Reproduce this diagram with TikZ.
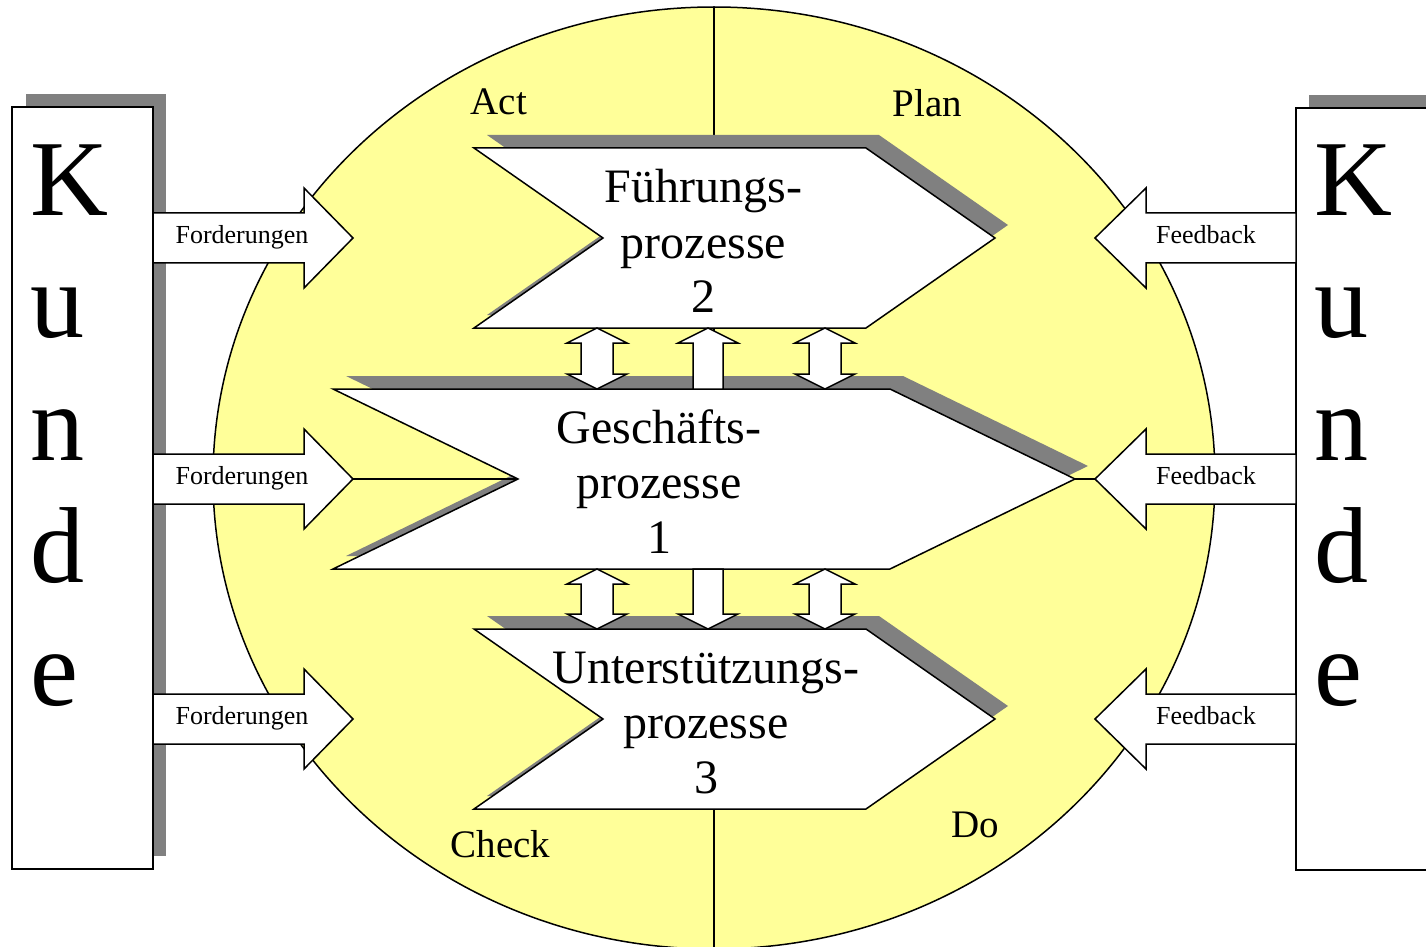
\documentclass[tikz,border=0pt]{standalone}
\usepackage{fontspec}
\setmainfont{Liberation Serif}
\definecolor{ylw}{RGB}{255,255,153}
\definecolor{shd}{RGB}{128,128,128}
\newcommand\chevpath[4]{(#1,#4-90) -- (#2,#4-90) -- (#2+#3,#4) -- (#2,#4+90) -- (#1,#4+90) -- (#1+#3,#4) -- cycle}
\newcommand\dblarr[3]{\draw[shp] (#1,#2) -- (#1+30,#2+15) -- (#1+16,#2+15) -- (#1+16,#3-15) -- (#1+30,#3-15) -- (#1,#3) -- (#1-30,#3-15) -- (#1-16,#3-15) -- (#1-16,#2+15) -- (#1-30,#2+15) -- cycle;}
\begin{document}
\begin{tikzpicture}[x=0.5pt,y=-0.5pt, line width=0.75pt, line join=miter,
  shp/.style={draw=black, fill=white},
  lbl/.style={font=\fontsize{19.5}{23}\selectfont, inner sep=0, anchor=base west},
  ptxt/.style={font=\fontsize{24}{27.5}\selectfont, align=center, inner sep=0, anchor=base},
  atxt/.style={font=\fontsize{13}{15}\selectfont, inner sep=0, anchor=base},
  ktxt/.style={font=\fontsize{54}{61.25}\selectfont, align=left, inner sep=0, anchor=base west}]
\useasboundingbox (0,0) rectangle (1426,947);
\clip (0,0) rectangle (1426,947);
\fill[white] (0,0) rectangle (1426,947);
% PDCA circle
\draw[fill=ylw] (714,478) ellipse [x radius=501, y radius=471];
\draw (714,7) -- (714,949);
% shadows
\fill[shd,shift={(13,-13)}] \chevpath{474}{866}{129}{238};
\fill[shd,shift={(13,-13)}] \chevpath{333}{890}{185}{479};
\fill[shd,shift={(13,-13)}] \chevpath{474}{866}{129}{719};
% process shapes
\draw[shp] \chevpath{474}{866}{129}{238};
\draw[shp] \chevpath{333}{890}{185}{479};
\draw[shp] \chevpath{474}{866}{129}{719};
\node[ptxt] (fp) at (703.5,313) {Führungs-\\prozesse\\2};
\node[ptxt] (gp) at (659,553) {Geschäfts-\\prozesse\\1};
\node[ptxt] (up) at (706,793) {Unterstützungs-\\prozesse\\3};
% small arrows between processes
\dblarr{597}{328}{389}
\dblarr{825}{328}{389}
\draw[shp] (708,328) -- (738,343) -- (723,343) -- (723,389) -- (693,389) -- (693,343) -- (678,343) -- cycle;
\dblarr{597}{569}{629}
\dblarr{825}{569}{629}
\draw[shp] (708,629) -- (738,614) -- (723,614) -- (723,569) -- (693,569) -- (693,614) -- (678,614) -- cycle;
% PDCA labels
\node[lbl] (act) at (470,115) {Act};
\node[lbl] (plan) at (892,117) {Plan};
\node[lbl] (check) at (450,857) {Check};
\node[lbl] (do) at (951,837) {Do};
% customer boxes
\fill[shd] (26,94) rectangle (166,856);
\draw[fill=white] (12,107) rectangle (153,869);
\node[ktxt] (kl) at (30,705) {K\\u\\n\\d\\e};
\fill[shd] (1309,95) rectangle (1445,857);
\draw[fill=white] (1296,108) rectangle (1445,870);
\node[ktxt] (kr) at (1314,705) {K\\u\\n\\d\\e};
% requirement and feedback arrows
\foreach \yc/\nm in {238/fa,479/fb,719/fc}{
  \draw[shp] (153,\yc-25) -- (304,\yc-25) -- (304,\yc-50) -- (353,\yc) -- (304,\yc+50) -- (304,\yc+25) -- (153,\yc+25) -- cycle;
  \node[atxt] (\nm) at (242,\yc+5) {Forderungen};
  \draw[shp] (1296,\yc-25) -- (1146,\yc-25) -- (1146,\yc-50) -- (1095,\yc) -- (1146,\yc+50) -- (1146,\yc+25) -- (1296,\yc+25) -- cycle;
  \node[atxt] (\nm b) at (1206,\yc+5) {Feedback};
}
\coordinate (gl) at (518,479);
\coordinate (gr) at (1075,479);
\coordinate (fbt) at (353,479);
\coordinate (bbt) at (1095,479);
\draw (fbt) -- (gl);
\draw (gr) -- (bbt);
\end{tikzpicture}
\end{document}
